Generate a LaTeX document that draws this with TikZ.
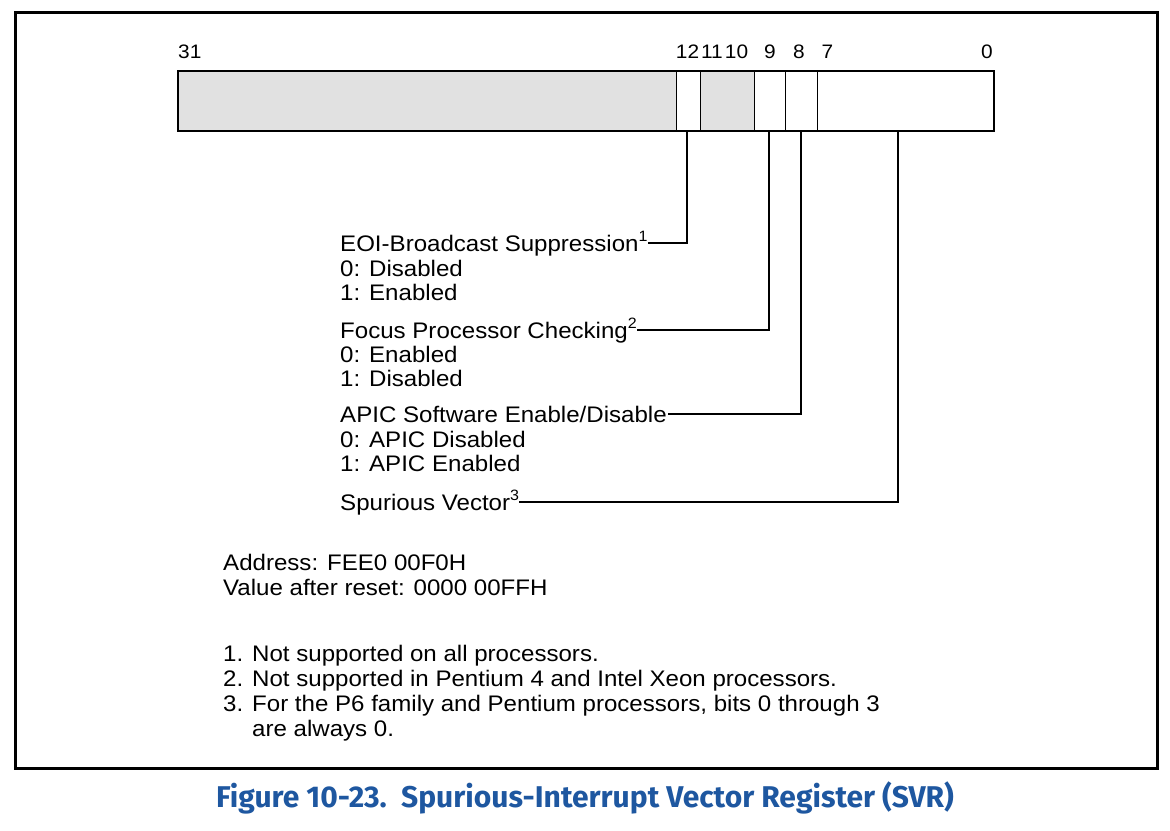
\documentclass[tikz,border=0pt]{standalone}
\usepackage{fontspec}
\setmainfont{Liberation Sans}[FakeStretch=1.07]
\newfontfamily\capfont{Fira Sans}
\usetikzlibrary{calc}
\definecolor{capblue}{RGB}{30,87,160}
\definecolor{reggrey}{RGB}{225,225,225}
\newcommand{\fnmark}[1]{\raisebox{0.42em}{\fontsize{15}{15}\selectfont #1}}
\begin{document}
\begin{tikzpicture}[x=1pt,y=-1pt,
  txt/.style={anchor=base west,inner sep=0pt,font=\fontsize{22.5}{24.5}\selectfont},
  bitnum/.style={anchor=base,inner sep=0pt,font=\fontsize{19.5}{19.5}\selectfont},
  conn/.style={line width=2pt},
  divider/.style={line width=1pt}]
\useasboundingbox (0,0) rectangle (1170,830);
% outer frame
\draw[line width=3pt] (15,12) rectangle (1157,768);
% register
\fill[reggrey] (178,71) rectangle (676,131);
\fill[reggrey] (700,71) rectangle (754,131);
\draw[divider] (676,71) -- (676,131);
\draw[divider] (700,71) -- (700,131);
\draw[divider] (754,71) -- (754,131);
\draw[divider] (785,71) -- (785,131);
\draw[divider] (817,71) -- (817,131);
\draw[line width=2pt] (178,71) rectangle (994,131);
% bit numbers
\node[bitnum,anchor=base west] (n31) at (178,58) {31};
\node[bitnum] (n12) at (687.5,58) {12};
\node[bitnum] (n11) at (712,58) {11};
\node[bitnum] (n10) at (736.5,58) {10};
\node[bitnum] (n9) at (770,58) {9};
\node[bitnum] (n8) at (799,58) {8};
\node[bitnum] (n7) at (827.5,58) {7};
\node[bitnum,anchor=base east] (n0) at (993,58) {0};
% connector start points
\coordinate (b12) at (687,131);
\coordinate (b9) at (769,131);
\coordinate (b8) at (801,131);
\coordinate (b0) at (898,131);
% field labels
\node[txt] (eoi) at (340,251) {EOI-Broadcast Suppression\fnmark{1}};
\node[txt] (eoi0) at (340,276) {0: Disabled};
\node[txt] (eoi1) at (340,300) {1: Enabled};
\node[txt] (fpc) at (340,338) {Focus Processor Checking\fnmark{2}};
\node[txt] (fpc0) at (340,362) {0: Enabled};
\node[txt] (fpc1) at (340,386) {1: Disabled};
\node[txt] (ase) at (340,422) {APIC Software Enable/Disable};
\node[txt] (ase0) at (340,447) {0: APIC Disabled};
\node[txt] (ase1) at (340,471) {1: APIC Enabled};
\node[txt] (sv) at (340,510) {Spurious Vector\fnmark{3}};
% connectors
\draw[conn] (b12) |- ($(eoi.base east)+(0,-8)$);
\draw[conn] (b9) |- ($(fpc.base east)+(0,-8)$);
\draw[conn] (b8) |- ($(ase.base east)+(1,-8)$);
\draw[conn] (b0) |- ($(sv.base east)+(0,-8)$);
% address
\node[txt] (addr) at (223,570) {Address: FEE0 00F0H};
\node[txt] (rst) at (223,595) {Value after reset: 0000 00FFH};
% notes
\node[txt] (k1) at (223,661) {1.};
\node[txt] (t1) at (252,661) {Not supported on all processors.};
\node[txt] (k2) at (223,686) {2.};
\node[txt] (t2) at (252,686) {Not supported in Pentium 4 and Intel Xeon processors.};
\node[txt] (k3) at (223,711) {3.};
\node[txt] (t3) at (252,711) {For the P6 family and Pentium processors, bits 0 through 3};
\node[txt] (t3b) at (252,736) {are always 0.};
% caption
\node[anchor=base,inner sep=0pt,text=capblue,font=\capfont\bfseries\fontsize{30}{30}\selectfont] (cap) at (585,807) {Figure 10-23.\ \ Spurious-Interrupt Vector Register (SVR)};
\end{tikzpicture}
\end{document}
